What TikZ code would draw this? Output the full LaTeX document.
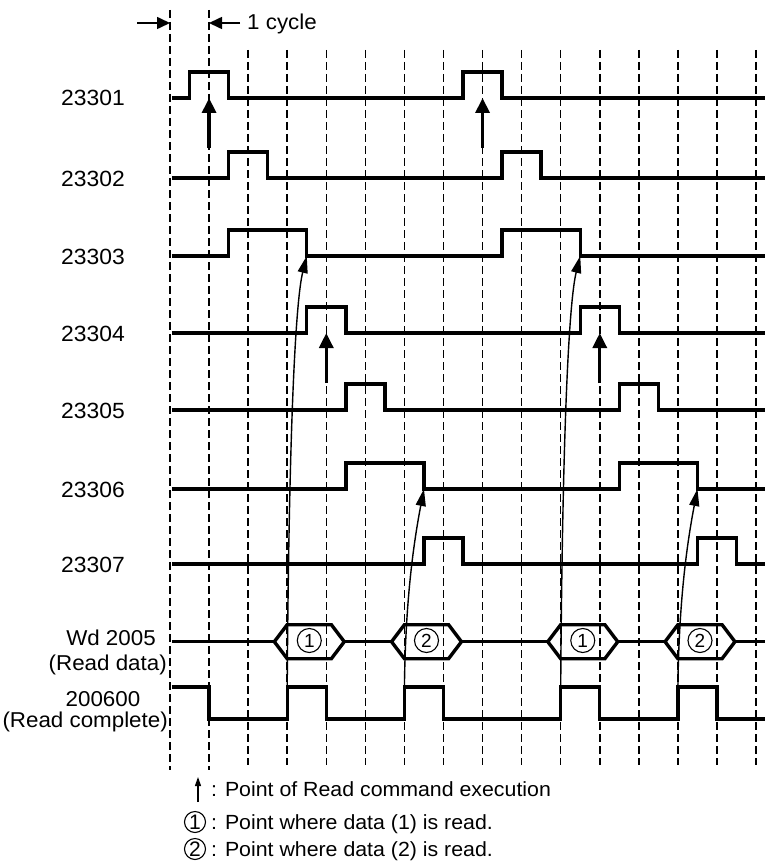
\documentclass[tikz,border=0pt]{standalone}
\usepackage{fontspec}
\setmainfont{Liberation Sans}
\usepackage{graphicx}
\usetikzlibrary{arrows.meta}
\newcommand\hs[1]{\scalebox{1.04}[1]{#1}}
\begin{document}
\begin{tikzpicture}[x=1pt,y=-1pt,
  sig/.style={line width=3.4pt, line join=miter},
  gridline/.style={line width=1.5pt, dash pattern=on 8pt off 4pt},
  readarrow/.style={line width=3.2pt, -{Triangle[length=15pt,width=14pt]}},
  dataarrow/.style={line width=1.4pt, -{Triangle[length=17pt,width=10pt]}},
  dimarrow/.style={line width=1.6pt, -{Triangle[length=13pt,width=12pt]}},
  lbl/.style={inner sep=0pt, anchor=base east, font=\fontsize{22}{26}\selectfont},
  txt/.style={inner sep=0pt, font=\fontsize{21.5}{25}\selectfont},
  legtxt/.style={inner sep=0pt, anchor=base west, font=\fontsize{20.5}{24}\selectfont},
  cnum/.style={circle, draw, line width=1.1pt, minimum size=24pt, inner sep=0pt, font=\fontsize{19}{19}\selectfont},
  lnum/.style={circle, draw, line width=1.1pt, minimum size=21pt, inner sep=0pt, font=\fontsize{21}{21}\selectfont},
]
\useasboundingbox (0,0) rectangle (765,864);

% ---- labels
\node[lbl] (l1) at (125,106) {\hs{23301}};
\node[lbl] (l2) at (125,186) {\hs{23302}};
\node[lbl] (l3) at (125,264) {\hs{23303}};
\node[lbl] (l4) at (125,341) {\hs{23304}};
\node[lbl] (l5) at (125,418) {\hs{23305}};
\node[lbl] (l6) at (125,497) {\hs{23306}};
\node[lbl] (l7) at (125,572) {\hs{23307}};
\node[txt, anchor=base] (l8a) at (111,645) {\hs{Wd 2005}};
\node[txt, anchor=base east] (l8b) at (167,670) {\hs{(Read data)}};
\node[txt, anchor=base] (l9a) at (103,706) {\hs{200600}};
\node[txt, anchor=base east] (l9b) at (168,727) {\hs{(Read complete)}};

% ---- 1 cycle dimension
\coordinate (c0) at (137,23);
\coordinate (c1) at (170,23);
\coordinate (c2) at (240,23);
\coordinate (c3) at (209,23);
\draw[dimarrow] (c0) -- (c1);
\draw[dimarrow] (c2) -- (c3);
\node[txt, anchor=base west] (cyc) at (247,30) {\hs{1 cycle}};

\begin{scope}[shift={(170,0)}, x=39.07pt]
  % grid
  \foreach \k in {0,1} \draw[gridline] (\k,10) -- (\k,770);
  \foreach \k in {2,...,15} \draw[gridline] (\k,50) -- (\k,765);

  % signals 23301..23307
  \foreach \y/\a/\b/\c/\d in {98/0.5/1.5/7.5/8.5, 178/1.5/2.5/8.5/9.5,
      256/1.5/3.5/8.5/10.5, 333/3.5/4.5/10.5/11.5, 410/4.5/5.5/11.5/12.5,
      489/4.5/6.5/11.5/13.5, 564/6.5/7.5/13.5/14.5}
    \draw[sig] (0.05,\y) -- (\a,\y) -- (\a,{\y-26}) -- (\b,{\y-26}) -- (\b,\y)
      -- (\c,\y) -- (\c,{\y-26}) -- (\d,{\y-26}) -- (\d,\y) -- (15.23,\y);

  % Wd 2005
  \draw[sig] (0.05,641.7) -- (2.67,641.7);
  \draw[sig] (4.46,641.7) -- (5.67,641.7);
  \draw[sig] (7.46,641.7) -- (9.67,641.7);
  \draw[sig] (11.46,641.7) -- (12.67,641.7);
  \draw[sig] (14.46,641.7) -- (15.23,641.7);
  \foreach \k/\n/\nm in {3/1/h1, 6/2/h2, 10/1/h3, 13/2/h4} {
    \draw[sig] (\k-0.33,641.7) -- (\k,624.7) -- (\k+1.13,624.7) -- (\k+1.46,641.7)
      -- (\k+1.13,658.7) -- (\k,658.7) -- cycle;
    \node[cnum] (\nm) at (\k+0.565,640.5) {\n};
  }

  % 200600
  \draw[sig] (0.05,687) -- (1,687) -- (1,719) -- (3,719) -- (3,687) -- (4,687)
    -- (4,719) -- (6,719) -- (6,687) -- (7,687) -- (7,719) -- (10,719)
    -- (10,687) -- (11,687) -- (11,719) -- (13,719) -- (13,687) -- (14,687)
    -- (14,719) -- (15.23,719);

  % read command arrows
  \coordinate (r1a) at (1,148);  \coordinate (r1b) at (1,98);
  \coordinate (r2a) at (8,148);  \coordinate (r2b) at (8,98);
  \coordinate (r3a) at (4,383);  \coordinate (r3b) at (4,333);
  \coordinate (r4a) at (11,383); \coordinate (r4b) at (11,333);
  \draw[readarrow] (r1a) -- (r1b);
  \draw[readarrow] (r2a) -- (r2b);
  \draw[readarrow] (r3a) -- (r3b);
  \draw[readarrow] (r4a) -- (r4b);

  % data read arrows
  \coordinate (d1a) at (3,687);  \coordinate (d1b) at (3.5,256);
  \coordinate (d2a) at (6,687);  \coordinate (d2b) at (6.5,489);
  \coordinate (d3a) at (10,687); \coordinate (d3b) at (10.5,256);
  \coordinate (d4a) at (13,687); \coordinate (d4b) at (13.5,489);
  \draw[dataarrow] (d1a) .. controls (3.046,420) and (3.22,300) .. (d1b);
  \draw[dataarrow] (d3a) .. controls (10.046,420) and (10.22,300) .. (d3b);
  \draw[dataarrow] (d2a) .. controls (6.02,620) and (6.15,560) .. (d2b);
  \draw[dataarrow] (d4a) .. controls (13.02,620) and (13.15,560) .. (d4b);
\end{scope}

% ---- legend
\coordinate (g1) at (198,802);
\coordinate (g2) at (198,777);
\draw[line width=1.1pt, -{Triangle[length=9pt,width=6pt]}] (g1) -- (g2);
\node[legtxt] (t1) at (211,796) {\hs{: Point of Read command execution}};
\node[lnum] (n1) at (195,822) {1};
\node[legtxt] (t2) at (211,829) {\hs{: Point where data (1) is read.}};
\node[lnum] (n2) at (195,849) {2};
\node[legtxt] (t3) at (211,856) {\hs{: Point where data (2) is read.}};
\end{tikzpicture}
\end{document}
